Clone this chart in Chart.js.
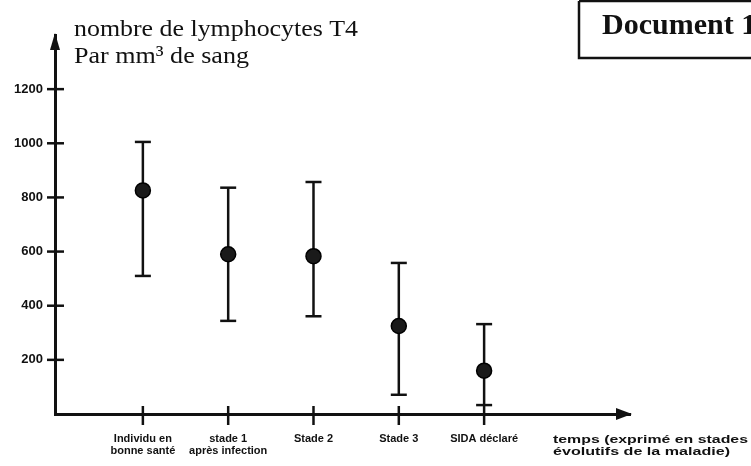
<!DOCTYPE html>
<html>
<head>
<meta charset="utf-8">
<script src="https://cdn.jsdelivr.net/npm/chart.js@4.4.0/dist/chart.umd.min.js"></script>
<style>
    html, body { margin: 0; padding: 0; background: #fff; }
    #wrap { width: 751px; height: 466px; position: relative; }
</style>
</head>
<body>
<div id="wrap"><canvas id="lymphoChart"></canvas></div>
<script>
// Data read from the document
const stages = [['Individu en', 'bonne santé'], ['stade 1', 'après infection'], ['Stade 2'], ['Stade 3'], ['SIDA déclaré']];
const meanValues = [826, 590, 583, 325, 160];
const lowValues = [510, 344, 361, 71, 33];
const highValues = [1005, 836, 857, 558, 332];
const yTicks = [200, 400, 600, 800, 1000, 1200];

const ink = '#111';

// one small line dataset per stage for the min-max bar, caps drawn as 'line' points
const errorSets = stages.map((s, i) => ({
    data: [{ x: i + 1, y: lowValues[i] }, { x: i + 1, y: highValues[i] }],
    showLine: true,
    borderColor: ink,
    borderWidth: 2.5,
    pointStyle: 'line',
    pointRadius: 8,
    pointBorderWidth: 2.5,
    pointBorderColor: ink
}));

function stretchText(ctx, text, x, y, width) {
    const w = ctx.measureText(text).width;
    ctx.save();
    ctx.translate(x, y);
    ctx.scale(width / w, 1);
    ctx.fillText(text, 0, 0);
    ctx.restore();
}

// axis arrows, crossing tick marks and the texts around the chart
const decorations = {
    id: 'decorations',
    afterDraw(chart) {
        const { ctx, chartArea, scales } = chart;
        const x = scales.x, y = scales.y;
        ctx.save();
        ctx.strokeStyle = ink;
        ctx.fillStyle = ink;

        ctx.lineWidth = 2.5;
        yTicks.forEach(v => {
            const py = y.getPixelForValue(v);
            ctx.beginPath();
            ctx.moveTo(chartArea.left - 8, py);
            ctx.lineTo(chartArea.left + 9, py);
            ctx.stroke();
        });
        stages.forEach((s, i) => {
            const px = x.getPixelForValue(i + 1);
            ctx.beginPath();
            ctx.moveTo(px, chartArea.bottom - 8);
            ctx.lineTo(px, chartArea.bottom + 11);
            ctx.stroke();
        });

        // arrow heads
        ctx.beginPath();
        ctx.moveTo(chartArea.left, chartArea.top - 2);
        ctx.lineTo(chartArea.left - 5, chartArea.top + 15);
        ctx.lineTo(chartArea.left + 5, chartArea.top + 15);
        ctx.closePath();
        ctx.fill();
        ctx.beginPath();
        ctx.moveTo(chartArea.right + 2, chartArea.bottom);
        ctx.lineTo(chartArea.right - 14, chartArea.bottom - 6);
        ctx.lineTo(chartArea.right - 14, chartArea.bottom + 6);
        ctx.closePath();
        ctx.fill();

        // y axis title
        ctx.textBaseline = 'alphabetic';
        ctx.textAlign = 'left';
        ctx.font = '24px "Liberation Serif"';
        stretchText(ctx, 'nombre de lymphocytes T4', 74, 36, 284);
        stretchText(ctx, 'Par mm³ de sang', 74, 63, 175);

        // x axis title
        ctx.font = 'bold 11px "Liberation Sans"';
        ctx.textBaseline = 'middle';
        stretchText(ctx, 'temps (exprimé en stades', 553, 440, 195);
        stretchText(ctx, 'évolutifs de la maladie)', 553, 452, 177);

        // document box
        ctx.lineWidth = 2.5;
        ctx.beginPath();
        ctx.moveTo(579, 1);
        ctx.lineTo(579, 58);
        ctx.lineTo(751, 58);
        ctx.moveTo(579, 1);
        ctx.lineTo(751, 1);
        ctx.stroke();
        ctx.textBaseline = 'alphabetic';
        ctx.font = 'bold 30px "Liberation Serif"';
        ctx.fillText('Document 1', 602, 34);
        ctx.restore();
    }
};

const ctx = document.getElementById('lymphoChart');
new Chart(ctx, {
    type: 'scatter',
    data: {
        datasets: [{
            data: meanValues.map((v, i) => ({ x: i + 1, y: v })),
            pointRadius: 7.5,
            pointBackgroundColor: '#1a1a1a',
            pointBorderColor: '#000',
            pointBorderWidth: 1.5
        }].concat(errorSets)
    },
    options: {
        responsive: true,
        maintainAspectRatio: false,
        animation: false,
        layout: {
            padding: { top: 35, right: 121, left: 0, bottom: 0 }
        },
        plugins: {
            legend: { display: false },
            tooltip: { enabled: false }
        },
        scales: {
            x: {
                type: 'linear',
                min: -0.03,
                max: 6.71,
                afterFit: scale => { scale.height = 52; },
                afterBuildTicks: scale => {
                    scale.ticks = stages.map((s, i) => ({ value: i + 1 }));
                },
                grid: { display: false, drawTicks: false },
                border: { display: true, color: ink, width: 3 },
                ticks: {
                    callback: v => stages[v - 1],
                    padding: 19,
                    maxRotation: 0,
                    autoSkip: false,
                    color: ink,
                    font: { family: 'Liberation Sans', size: 11, weight: 'bold', lineHeight: 1.1 }
                }
            },
            y: {
                min: 0,
                max: 1400,
                afterFit: scale => { scale.width = 55; },
                afterBuildTicks: scale => {
                    scale.ticks = yTicks.map(v => ({ value: v }));
                },
                grid: { display: false, drawTicks: false },
                border: { display: true, color: ink, width: 3 },
                ticks: {
                    callback: v => String(v),
                    padding: 12,
                    color: ink,
                    font: { family: 'Liberation Sans', size: 13, weight: 'bold' }
                }
            }
        }
    },
    plugins: [decorations]
});
</script>
</body>
</html>
